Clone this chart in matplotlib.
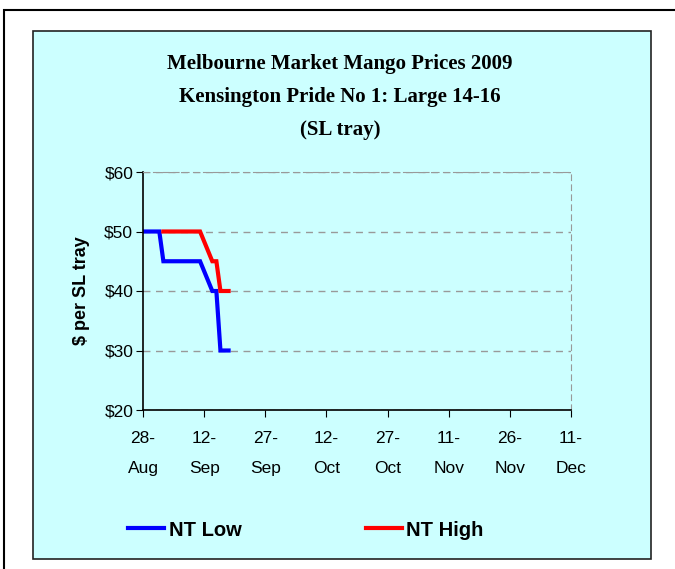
import matplotlib.pyplot as plt
import matplotlib.dates as mdates
import numpy as np
import pandas as pd
from matplotlib.patches import Rectangle

# price data
dates = pd.to_datetime(['2009-08-28', '2009-09-01', '2009-09-02', '2009-09-11',
                        '2009-09-14', '2009-09-15', '2009-09-16', '2009-09-18'])
nt_low = [50, 50, 45, 45, 40, 40, 30, 30]
nt_high = [np.nan, np.nan, 50, 50, 45, 45, 40, 40]

tick_dates = pd.date_range('2009-08-28', '2009-12-11', freq='15D')
y_ticks = [20, 30, 40, 50, 60]

fig = plt.figure(figsize=(6.75, 5.69), dpi=100)
W, H = 675, 569

# outer frame and cyan chart area
fig.patches.append(Rectangle((4 / W, -0.1), 1.2, 1 - 10 / H + 0.1, transform=fig.transFigure,
                             fill=False, edgecolor='black', linewidth=1.5, zorder=-2))
fig.patches.append(Rectangle((33 / W, 1 - 559 / H), (651 - 33) / W, (559 - 31) / H,
                             transform=fig.transFigure, facecolor='#CCFFFF',
                             edgecolor='#222222', linewidth=1.2, zorder=-1))

ax = fig.add_axes([143 / W, 1 - 410 / H, (571 - 143) / W, (410 - 172) / H])
ax.set_facecolor('none')
ax.set_zorder(2)

ax.plot(dates, nt_low, color='#0000FF', lw=3, label='NT Low', solid_joinstyle='miter')
ax.plot(dates, nt_high, color='#FF0000', lw=3, label='NT High', solid_joinstyle='miter')

ax.set_xlim(tick_dates[0], tick_dates[-1])
ax.set_ylim(20, 60)
ax.set_xticks(tick_dates)
ax.xaxis.set_major_formatter(mdates.DateFormatter('%d-\n%b'))
ax.set_yticks(y_ticks)
ax.set_yticklabels(['$%d' % v for v in y_ticks])
ax.yaxis.grid(True, color='#999999', linestyle=(0, (5, 4)), lw=1)

for s in ['top', 'right']:
    ax.spines[s].set_color('#999999')
    ax.spines[s].set_linestyle((0, (5, 4)))
ax.spines['left'].set_linewidth(1.2)
ax.spines['bottom'].set_linewidth(1.2)
ax.tick_params(axis='x', direction='out', length=5, pad=10)
ax.tick_params(axis='y', direction='out', length=5, pad=2)
for lab in ax.get_xticklabels():
    lab.set_fontfamily('Liberation Sans')
    lab.set_fontsize(12.5)
    lab.set_linespacing(2.25)
for lab in ax.get_yticklabels():
    lab.set_fontfamily('Liberation Sans')
    lab.set_fontsize(12.5)

ax.set_ylabel('$ per SL tray', fontfamily='Liberation Sans', fontweight='bold', fontsize=13)
ax.yaxis.set_label_coords(-0.125, 0.5)

fig.text(340 / W, 1 - 97 / H,
         'Melbourne Market Mango Prices 2009\nKensington Pride No 1: Large 14-16\n(SL tray)',
         ha='center', va='center', fontfamily='Liberation Serif', fontweight='bold',
         fontsize=15, linespacing=1.85)

leg = fig.legend(loc='center', bbox_to_anchor=(306 / W, 1 - 530 / H), ncol=2,
                 frameon=False, prop={'family': 'Liberation Sans', 'weight': 'bold', 'size': 14.5},
                 handlelength=1.8, handletextpad=0.2, columnspacing=6.2)

fig.savefig('out.png', dpi=100)
